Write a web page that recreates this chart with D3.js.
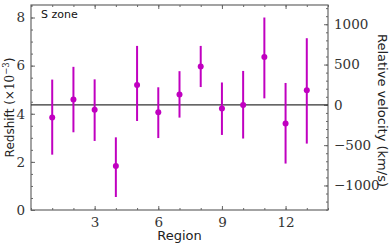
<!DOCTYPE html>
<html>
<head>
<meta charset="utf-8">
<script src="https://cdn.jsdelivr.net/npm/d3@7"></script>
<style>
  body { margin: 0; background: #fff; }
  svg { display: block; }
</style>
</head>
<body>
<div id="chart"></div>
<script>
// redshift per regione (x10^-3), con barre d'errore
const regions  = [1, 2, 3, 4, 5, 6, 7, 8, 9, 10, 11, 12, 13];
const redshift = [3.84, 4.59, 4.17, 1.83, 5.20, 4.06, 4.80, 5.96, 4.22, 4.36, 6.36, 3.59, 4.98];
const errLow   = [2.30, 3.23, 2.87, 0.54, 3.70, 2.99, 3.84, 5.11, 3.12, 2.97, 4.64, 1.93, 2.76];
const errHigh  = [5.42, 5.95, 5.43, 3.02, 6.82, 5.10, 5.77, 6.82, 5.30, 5.78, 8.00, 5.28, 7.14];
const refZ = 4.37;          // redshift medio (linea orizzontale)
const xTicks = [3, 6, 9, 12];
const yTicks = [0, 2, 4, 6, 8];
const vTicks = [-1000, -500, 0, 500, 1000];
const zoneLabel = 'S zone';

const W = 390, H = 244;
const m = { top: 5, right: 62, bottom: 34, left: 31 };
const w = W - m.left - m.right, h = H - m.top - m.bottom;

const svg = d3.select('#chart').append('svg').attr('width', W).attr('height', H);
const g = svg.append('g').attr('transform', `translate(${m.left},${m.top})`);

const x = d3.scaleLinear().domain([0, 14]).range([0, w]);
const y = d3.scaleLinear().domain([0, 8.52]).range([h, 0]);
// velocità relativa: 1e-3 in z ~ 300 km/s
const c = 299792.458;
const yv = d3.scaleLinear()
  .domain([(0 - refZ) * c / 1000 / (1 + refZ / 1000), (8.52 - refZ) * c / 1000 / (1 + refZ / 1000)])
  .range([h, 0]);

const axisCol = '#666';
const serif = 'DejaVu Serif, Liberation Serif, serif';
const sans = 'DejaVu Sans, sans-serif';

function styleAxis(sel) {
  sel.select('.domain').remove();
  sel.selectAll('line').attr('stroke', axisCol).attr('stroke-width', 1);
  sel.selectAll('text').attr('font-family', serif).attr('font-size', 13.5).attr('fill', '#333');
}

// tick minori
g.append('g').attr('transform', `translate(0,${h})`)
  .call(d3.axisBottom(x).tickValues(d3.range(0, 15, 1)).tickSize(-2).tickFormat(''))
  .call(styleAxis);
g.append('g')
  .call(d3.axisTop(x).tickValues(d3.range(0, 15, 1)).tickSize(-2).tickFormat(''))
  .call(styleAxis);
g.append('g')
  .call(d3.axisLeft(y).tickValues(d3.range(0, 8.6, 0.5)).tickSize(-2).tickFormat(''))
  .call(styleAxis);
g.append('g').attr('transform', `translate(${w},0)`)
  .call(d3.axisRight(yv).tickValues(d3.range(-1300, 1300, 100)).tickSize(-2).tickFormat(''))
  .call(styleAxis);

// tick maggiori
g.append('g').attr('transform', `translate(0,${h})`)
  .call(d3.axisBottom(x).tickValues(xTicks).tickSize(-4).tickPadding(7))
  .call(styleAxis);
g.append('g')
  .call(d3.axisTop(x).tickValues(xTicks).tickSize(-4).tickFormat(''))
  .call(styleAxis);
g.append('g')
  .call(d3.axisLeft(y).tickValues(yTicks).tickSize(-4).tickPadding(6))
  .call(styleAxis);
g.append('g').attr('transform', `translate(${w},0)`)
  .call(d3.axisRight(yv).tickValues(vTicks).tickSize(-4).tickPadding(6)
    .tickFormat(d => d < 0 ? '\u2212' + Math.abs(d) : d))
  .call(styleAxis);

// cornice
g.append('rect').attr('width', w).attr('height', h)
  .attr('fill', 'none').attr('stroke', axisCol).attr('stroke-width', 1.2);

// linea di riferimento
g.append('line')
  .attr('x1', 0).attr('x2', w)
  .attr('y1', y(refZ)).attr('y2', y(refZ))
  .attr('stroke', '#333').attr('stroke-width', 1.3);

const magenta = '#c000c0';
const pts = regions.map((r, i) => ({ r, z: redshift[i], lo: errLow[i], hi: errHigh[i] }));

g.selectAll('.err').data(pts).join('line')
  .attr('class', 'err')
  .attr('x1', d => x(d.r)).attr('x2', d => x(d.r))
  .attr('y1', d => y(d.lo)).attr('y2', d => y(d.hi))
  .attr('stroke', magenta).attr('stroke-width', 2);

g.selectAll('.pt').data(pts).join('circle')
  .attr('class', 'pt')
  .attr('cx', d => x(d.r)).attr('cy', d => y(d.z))
  .attr('r', 3).attr('fill', magenta);

g.append('text').attr('x', 10).attr('y', 13)
  .attr('font-family', sans).attr('font-size', 11).attr('fill', '#111')
  .text(zoneLabel);

// etichette assi
svg.append('text')
  .attr('x', m.left + w / 2).attr('y', H - 4)
  .attr('text-anchor', 'middle')
  .attr('font-family', sans).attr('font-size', 13).attr('fill', '#222')
  .text('Region');

const yl = svg.append('text')
  .attr('transform', `translate(14,${m.top + h / 2}) rotate(-90)`)
  .attr('text-anchor', 'middle')
  .attr('font-family', sans).attr('font-size', 12).attr('fill', '#222');
yl.append('tspan').text('Redshift (');
yl.append('tspan').attr('font-family', serif).text('\u00d710');
yl.append('tspan').attr('font-family', serif).attr('font-size', 8.5).attr('dy', -5).text('\u22123');
yl.append('tspan').attr('dy', 5).text(')');

svg.append('text')
  .attr('transform', `translate(378,${m.top + h / 2 + 3}) rotate(90)`)
  .attr('text-anchor', 'middle')
  .attr('font-family', sans).attr('font-size', 13).attr('fill', '#222')
  .text('Relative velocity (km/s)');
</script>
</body>
</html>
